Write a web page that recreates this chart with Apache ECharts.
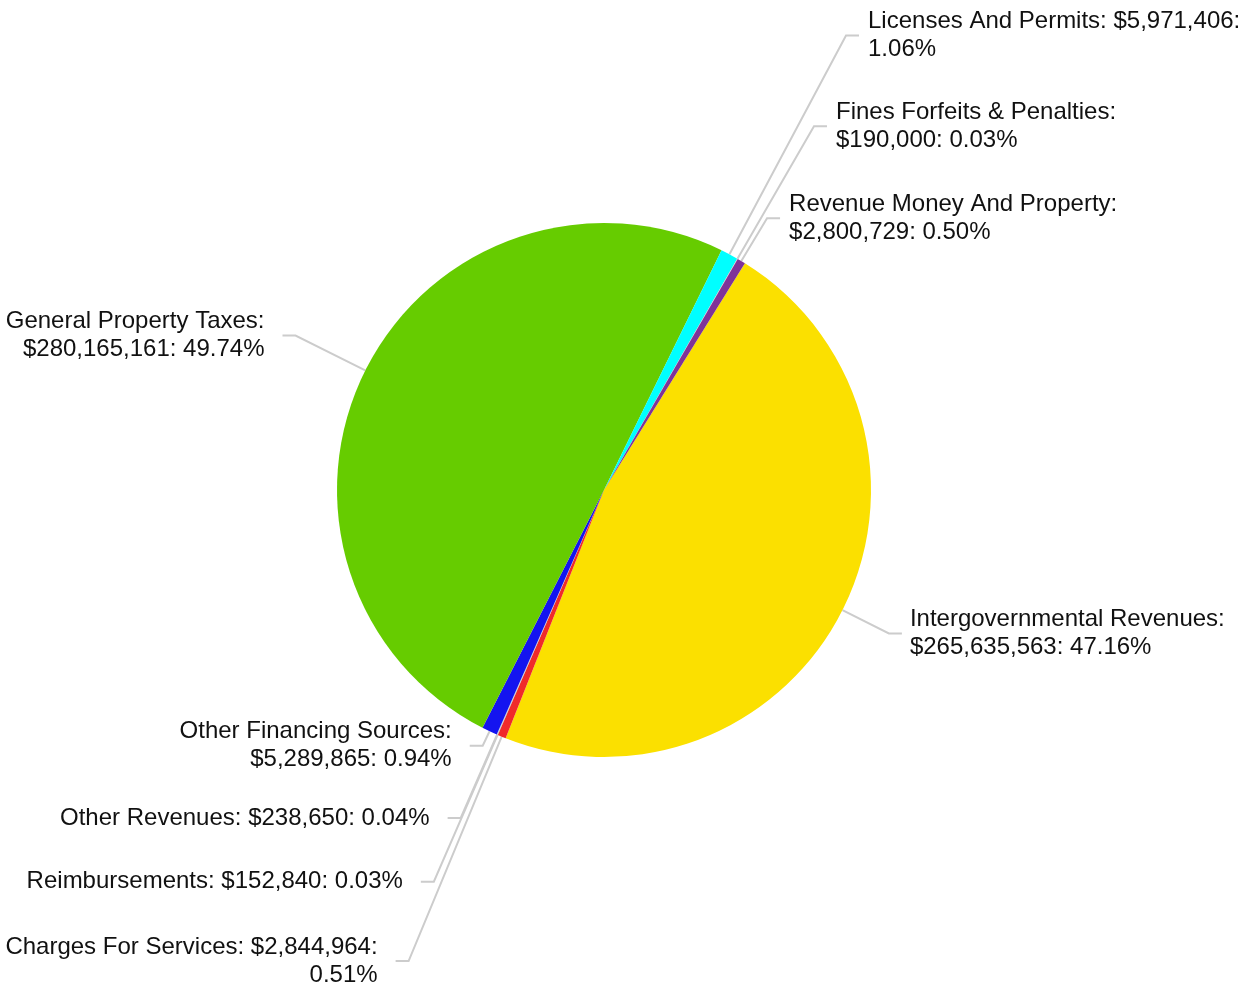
<!DOCTYPE html>
<html>
<head>
<meta charset="utf-8">
<title>Revenue sources</title>
<script src="https://cdn.jsdelivr.net/npm/echarts@6/dist/echarts.min.js"></script>
<style>
  html, body { margin: 0; padding: 0; background: #fff; }
  #chart { width: 1249px; height: 987px; }
</style>
</head>
<body>
<div id="chart"></div>
<script>
// data, in clockwise order starting at the yellow slice
const categories = [
  'Intergovernmental Revenues',
  'Charges For Services',
  'Reimbursements',
  'Other Revenues',
  'Other Financing Sources',
  'General Property Taxes',
  'Licenses And Permits',
  'Fines Forfeits & Penalties',
  'Revenue Money And Property'
];
const amounts = [265635563, 2844964, 152840, 238650, 5289865, 280165161, 5971406, 190000, 2800729];

// how each label wraps: after the name, after the value, or not at all
const wrapAt = ['name', 'value', 'none', 'none', 'name', 'name', 'value', 'name', 'name'];

// look
const colors = ['#fbe000', '#f02a2a', '#aaaaaa', '#d0d0d0', '#1414f0', '#66cc00', '#00ffff', '#f0c0c0', '#7f3399'];
const lineLen = [52, 243, 160, 91, 16, 78, 248, 153, 50];
const gaps = [8, 18, 18, 18, 18, 18, 9, 9, 9];

const total = amounts.reduce((a, b) => a + b, 0);

const chart = echarts.init(document.getElementById('chart'));

const seriesData = categories.map((name, i) => ({
  name: name,
  value: amounts[i],
  itemStyle: { color: colors[i] },
  label: { distanceToLabelLine: gaps[i] },
  labelLine: { length: lineLen[i], length2: 13 }
}));

chart.setOption({
  animation: false,
  series: [{
    type: 'pie',
    center: [604, 490],
    radius: 267,
    startAngle: 58.15,
    clockwise: true,
    avoidLabelOverlap: false,
    data: seriesData,
    itemStyle: { borderWidth: 0 },
    label: {
      show: true,
      position: 'outside',
      alignTo: 'none',
      bleedMargin: 0,
      overflow: 'none',
      color: '#111',
      fontFamily: 'Liberation Sans, Arial, sans-serif',
      fontSize: 24,
      lineHeight: 28,
      padding: [5, 0, 0, 0],
      formatter: function (p) {
        const i = p.dataIndex;
        const v = '$' + p.value.toLocaleString('en-US');
        const pct = (p.value / total * 100).toFixed(2) + '%';
        if (wrapAt[i] === 'name') return p.name + ':\n' + v + ': ' + pct;
        if (wrapAt[i] === 'value') return p.name + ': ' + v + ':\n' + pct;
        return p.name + ': ' + v + ': ' + pct;
      }
    },
    labelLine: {
      show: true,
      smooth: false,
      lineStyle: { color: '#cccccc', width: 2 }
    },
    emphasis: { disabled: true }
  }]
});

window.addEventListener('resize', () => chart.resize());
</script>
</body>
</html>
